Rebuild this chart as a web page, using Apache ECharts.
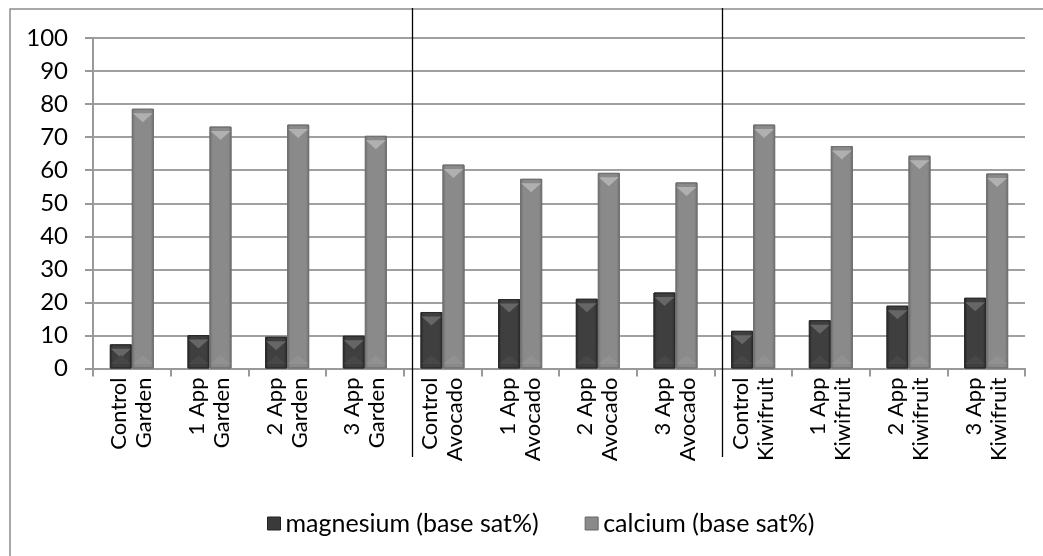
<!DOCTYPE html>
<html>
<head>
<meta charset="utf-8">
<script src="https://cdn.jsdelivr.net/npm/echarts@6/dist/echarts.min.js"></script>
<style>
html,body{margin:0;padding:0;background:#fff;}
#chart{width:1043px;height:556px;}
</style>
</head>
<body>
<div id="chart"></div>
<script>
const categories = [
  'Control\nGarden','1 App\nGarden','2 App\nGarden','3 App\nGarden',
  'Control\nAvocado','1 App\nAvocado','2 App\nAvocado','3 App\nAvocado',
  'Control\nKiwifruit','1 App\nKiwifruit','2 App\nKiwifruit','3 App\nKiwifruit'
];
const magnesium = [7.3, 10.1, 9.6, 9.9, 17.1, 21.0, 21.1, 23.0, 11.4, 14.6, 19.0, 21.4];
const calcium = [78.6, 73.2, 73.8, 70.4, 61.7, 57.4, 59.2, 56.3, 73.8, 67.3, 64.4, 59.0];
const seriesNames = ['magnesium (base sat%)', 'calcium (base sat%)'];
const yTicks = [0, 10, 20, 30, 40, 50, 60, 70, 80, 90, 100];

const FONT = 'Lato, "Open Sans", sans-serif';
const chart = echarts.init(document.getElementById('chart'));

function barGrad(edge, mid) {
  return new echarts.graphic.LinearGradient(0, 0, 1, 0, [
    {offset: 0, color: edge}, {offset: 0.15, color: mid},
    {offset: 0.85, color: mid}, {offset: 1, color: edge}
  ]);
}
const BW = 22;
function cap(name, data, color, pos, axisIdx) {
  return {name: name, type: 'pictorialBar', data: data, barWidth: BW, barGap: '0%', z: 3,
    xAxisIndex: axisIdx,
    symbol: 'triangle', symbolRotate: pos === 'end' ? 180 : 0, symbolPosition: pos,
    symbolSize: [BW - 2, 9], symbolOffset: [0, pos === 'end' ? '50%' : '-50%'],
    itemStyle: {color: color}, legendHoverLink: false, silent: true};
}
const option = {
  animation: false,
  backgroundColor: '#fff',
  grid: {left: 93, right: 18, top: 38, bottom: 187.5},
  legend: {
    top: 506, left: 262,
    itemWidth: 13, itemHeight: 13, itemGap: 46,
    textStyle: {fontFamily: FONT, fontSize: 25, color: '#000'},
    data: [
      {name: seriesNames[0], icon: 'rect', itemStyle: {color: '#3a3a3a', borderColor: '#222', borderWidth: 1}},
      {name: seriesNames[1], icon: 'rect', itemStyle: {color: '#8a8a8a', borderColor: '#666', borderWidth: 1}}
    ]
  },
  xAxis: [{
    type: 'category', data: categories,
    axisLine: {lineStyle: {color: '#999', width: 2}},
    axisTick: {show: true, length: 8, lineStyle: {color: '#999', width: 2}},
    axisLabel: {rotate: 90, margin: 9, fontFamily: FONT, fontSize: 22, color: '#000', lineHeight: 25}
  }, {
    type: 'category', data: categories, show: false, position: 'bottom'
  }],
  yAxis: {
    type: 'value', min: yTicks[0], max: yTicks[yTicks.length - 1], interval: 10,
    axisLine: {show: true, lineStyle: {color: '#999', width: 2}},
    axisTick: {show: true, length: 8, lineStyle: {color: '#999', width: 2}},
    splitLine: {lineStyle: {color: '#a0a0a0', width: 2}},
    axisLabel: {margin: 25, fontFamily: FONT, fontSize: 24, color: '#000'}
  },
  series: [
    {name: seriesNames[0], type: 'bar', data: magnesium, barWidth: BW, barGap: '0%', z: 2,
      itemStyle: {color: barGrad('#262626', '#3f3f3f'), borderColor: '#2a2a2a', borderWidth: 1}},
    {name: seriesNames[1], type: 'bar', data: calcium, barWidth: BW, barGap: '0%', z: 2,
      itemStyle: {color: barGrad('#6e6e6e', '#8a8a8a'), borderColor: '#707070', borderWidth: 1}},
    cap(seriesNames[0], magnesium, '#666666', 'end', 0),
    cap(seriesNames[1], calcium, '#b0b0b0', 'end', 0),
    cap(seriesNames[0], magnesium, '#474747', 'start', 1),
    cap(seriesNames[1], calcium, '#919191', 'start', 1)
  ],
  graphic: [
    {type: 'rect', shape: {x: 10, y: 9, width: 1100, height: 600}, style: {fill: 'none', stroke: '#8c8c8c', lineWidth: 1.5}, silent: true, z: -1}
  ]
};
chart.setOption(option);

// group separators (Garden | Avocado | Kiwifruit)
const sepAt = [4, 8];
const x0 = chart.convertToPixel({xAxisIndex: 0}, 0);
const x1 = chart.convertToPixel({xAxisIndex: 0}, 1);
const band = x1 - x0;
const seps = sepAt.map(i => {
  const x = Math.round(chart.convertToPixel({xAxisIndex: 0}, i) - band / 2 + 8) + 0.5;
  return {type: 'line', shape: {x1: x, y1: 8, x2: x, y2: 457}, style: {stroke: '#000', lineWidth: 1.3}, silent: true, z: 10};
});
chart.setOption({graphic: option.graphic.concat(seps)});
</script>
</body>
</html>
